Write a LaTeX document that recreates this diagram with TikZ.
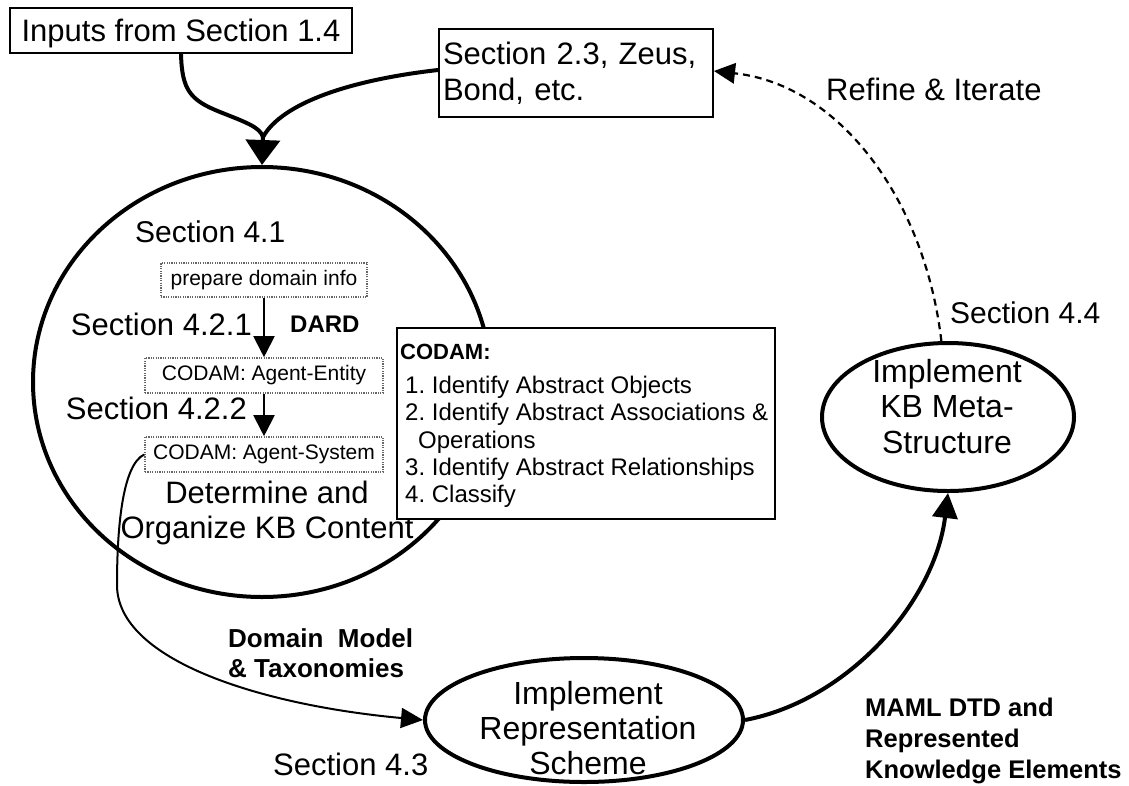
\documentclass[tikz,border=0pt]{standalone}
\usepackage{fontspec}
\setmainfont{Liberation Sans}
\usetikzlibrary{arrows.meta,shapes.geometric}
\newcommand{\fsz}[2]{\fontsize{#1}{#2}\selectfont}
\begin{document}
\frenchspacing
\begin{tikzpicture}[x=1pt,y=-1pt,
  box/.style={draw,line width=2pt,rectangle,inner sep=0pt,fill=white},
  dotbox/.style={draw=black!60,line width=1.6pt,dash pattern=on 1.2pt off 1.2pt,rectangle,inner sep=0pt,font=\fsz{21}{24}},
  bigell/.style={draw,line width=4pt,ellipse,inner sep=0pt},
  txt/.style={inner sep=0pt,font=\fsz{31}{36}},
  btxt/.style={inner sep=0pt,font=\bfseries\fsz{25.5}{31}},
  thickline/.style={line width=4pt},
  bigtip/.style={line width=4pt,-{Triangle[length=25pt,width=34pt]}},
  medtip/.style={line width=4pt,-{Triangle[length=25pt,width=25pt]}},
  thintip/.style={line width=2pt,-{Triangle[length=22pt,width=20pt]}},
  innertip/.style={line width=2pt,-{Triangle[length=21pt,width=21pt]}},
  dashtip/.style={line width=2.2pt,dash pattern=on 7pt off 5pt,-{Triangle[length=21pt,width=21pt,line width=0pt,fill=black]}}
]
\useasboundingbox (0,0) rectangle (1129,785);

% main shapes
\node[bigell,minimum width=458pt,minimum height=430pt] (circ) at (262,382) {};
\node[bigell,minimum width=318pt,minimum height=124pt] (repr) at (584,720) {};
\node[bigell,minimum width=252pt,minimum height=148pt] (kbm) at (948,417) {};

% top boxes
\node[box,minimum width=342pt,minimum height=45pt,text depth=0pt,font=\fsz{31}{36}] (inputs) at (181,30.5) {Inputs from Section 1.4};
\node[box,inner xsep=4pt,text width=266pt,minimum height=88pt,align=left,font=\fsz{31}{36}] (sec23) at (576,73) {Section 2.3, Zeus,\\Bond, etc.};

% inside circle
\node[txt,anchor=base west,font=\fsz{30}{36}] (s41) at (135,242) {Section 4.1};
\node[dotbox,minimum width=206pt,minimum height=34pt] (prep) at (264,280) {prepare domain info};
\node[txt,anchor=base east] (s421) at (252,335) {Section 4.2.1};
\node[inner sep=0pt,anchor=base west,font=\bfseries\fsz{24}{28}] (dard) at (290,332) {DARD};
\node[dotbox,minimum width=238pt,minimum height=35pt] (ent) at (264,375.5) {CODAM: Agent-Entity};
\node[txt,anchor=base east] (s422) at (247,419) {Section 4.2.2};
\node[dotbox,minimum width=238pt,minimum height=35pt] (sys) at (264,454.5) {CODAM: Agent-System};
\node[txt,anchor=north,align=center,font=\fsz{31}{35}] (det) at (267,481) {Determine and\\Organize KB Content};

% CODAM box
\node[box,minimum width=378pt,minimum height=191pt] (codam) at (586,423.5) {};
\node[inner sep=0pt,anchor=north west,align=left,font=\fsz{24}{27.3}] (codamtxt) at (400,344)
 {{\bfseries\fsz{22}{27.3}CODAM:}\\[6.7pt]
  \hspace*{5pt}1. Identify Abstract Objects\\
  \hspace*{5pt}2. Identify Abstract Associations \&\\
  \hspace*{18pt}Operations\\
  \hspace*{5pt}3. Identify Abstract Relationships\\
  \hspace*{5pt}4. Classify};

% ellipse texts
\node[inner sep=0pt,anchor=north,align=center,font=\fsz{32}{35}] (reprtxt) at (588,681) {Implement\\Representation\\Scheme};
\node[inner sep=0pt,anchor=north,align=center,font=\fsz{32}{35.5}] (kbmtxt) at (947,359) {Implement\\KB Meta-\\Structure};

% labels
\node[txt,anchor=base west] (refine) at (826,100) {Refine \& Iterate};
\node[txt,anchor=base west,font=\fsz{30}{36}] (s44) at (950,323) {Section 4.4};
\node[txt,anchor=base west] (s43) at (273,775) {Section 4.3};
\node[inner sep=0pt,anchor=north west,align=left,font=\bfseries\fsz{26}{30}] (dom) at (228,628) {Domain\ \ Model\\\& Taxonomies};
\node[btxt,anchor=north west,align=left] (maml) at (865,698) {MAML DTD and\\Represented\\Knowledge Elements};

% connectors
\coordinate (m) at (263,137);
\draw[thickline] (inputs.south) .. controls (182,90) and (190,100) .. (220,112) .. controls (245,122) and (260,127) .. (m);
\draw[thickline] ([yshift=3pt]sec23.west) .. controls (350,80) and (282,103) .. (m);
\draw[bigtip] (m) -- (circ.north);

\draw[innertip] (prep.south) -- (ent.north);
\draw[innertip] (ent.south) -- (sys.north);

\draw[thintip] (sys.west) .. controls (122,465) and (117,530) .. (117,585) .. controls (117,660) and (260,705) .. (repr.west);
\draw[medtip] (repr.east) .. controls (850,700) and (935,600) .. (kbm.south);
\draw[dashtip] (kbm.95) .. controls (925,200) and (840,85) .. ([yshift=2pt]sec23.east);
\end{tikzpicture}
\end{document}
